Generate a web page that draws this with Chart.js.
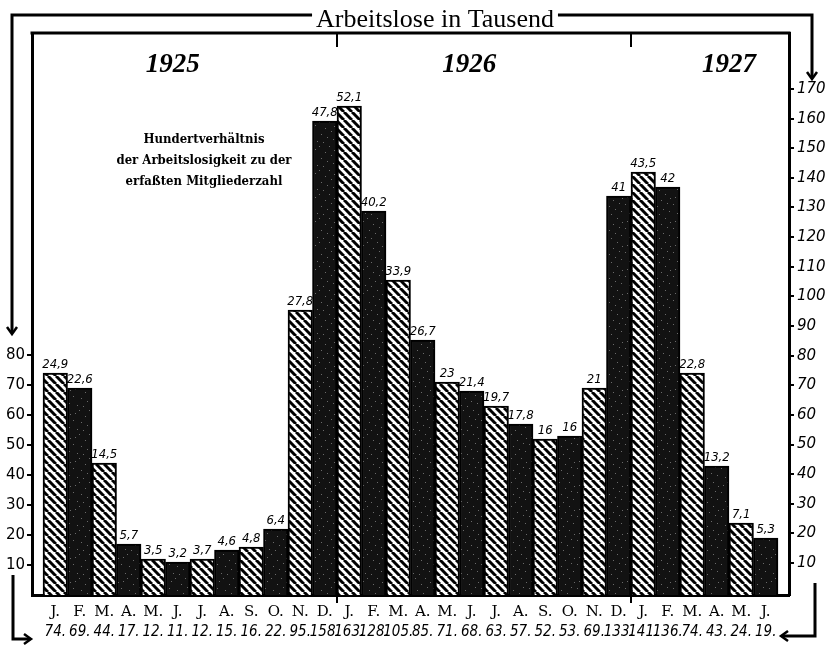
<!DOCTYPE html>
<html><head><meta charset="utf-8">
<script src="https://cdn.jsdelivr.net/npm/chart.js@4"></script>
<style>html,body{margin:0;padding:0;background:#fff;}canvas{display:block;}</style>
</head><body>
<canvas id="c" width="833" height="662"></canvas>
<script>
// ---- data ----
const months = ['J.','F.','M.','A.','M.','J.','J.','A.','S.','O.','N.','D.',
                'J.','F.','M.','A.','M.','J.','J.','A.','S.','O.','N.','D.',
                'J.','F.','M.','A.','M.','J.'];
const unemployed = [74,69,44,17,12,11,12,15,16,22,95,158,
                    163,128,105,85,71,68,63,57,52,53,69,133,
                    141,136,74,43,24,19];
const percent = [24.9,22.6,14.5,5.7,3.5,3.2,3.7,4.6,4.8,6.4,27.8,47.8,
                 52.1,40.2,33.9,26.7,23,21.4,19.7,17.8,16,16,21,41,
                 43.5,42,22.8,13.2,7.1,5.3];
const years = ['1925','1926','1927'];
const leftTicks = [10,20,30,40,50,60,70,80];
const rightTicks = [10,20,30,40,50,60,70,80,90,100,110,120,130,140,150,160,170];
const titleText = 'Arbeitslose in Tausend';
const noteLines = ['Hundertverhältnis','der Arbeitslosigkeit zu der','erfaßten Mitgliederzahl'];

// ---- patterns ----
const canvas = document.getElementById('c');
const mainCtx = canvas.getContext('2d');
function hatchPattern(){
  const s = 8, t = document.createElement('canvas'); t.width = t.height = s;
  const x = t.getContext('2d');
  x.fillStyle = '#fff'; x.fillRect(0,0,s,s);
  x.strokeStyle = '#000'; x.lineWidth = 3;
  for (const k of [-1,0,1]) { x.beginPath(); x.moveTo(k*s,0); x.lineTo(k*s+s,s); x.stroke(); }
  return mainCtx.createPattern(t,'repeat');
}
function darkPattern(){
  const s = 24, t = document.createElement('canvas'); t.width = t.height = s;
  const x = t.getContext('2d');
  x.fillStyle = '#121212'; x.fillRect(0,0,s,s);
  x.fillStyle = '#6a6a6a';
  const specks = [[3,5],[17,2],[9,14],[21,19],[5,21],[13,8],[1,12],[19,11],[11,22],[7,2],[15,17],[22,6]];
  specks.forEach(p => x.fillRect(p[0],p[1],1,1));
  return mainCtx.createPattern(t,'repeat');
}
const HATCH = hatchPattern(), DARK = darkPattern();

// ---- decoration plugin ----
function arrow(ctx, x, y, dir){
  ctx.beginPath();
  if (dir === 'down') { ctx.moveTo(x-5,y-7); ctx.lineTo(x,y); ctx.lineTo(x+5,y-7); }
  if (dir === 'right') { ctx.moveTo(x-7,y-5); ctx.lineTo(x,y); ctx.lineTo(x-7,y+5); }
  if (dir === 'left') { ctx.moveTo(x+7,y-5); ctx.lineTo(x,y); ctx.lineTo(x+7,y+5); }
  ctx.stroke();
}
function seg(ctx, pts){
  ctx.beginPath(); ctx.moveTo(pts[0][0],pts[0][1]);
  for (let i=1;i<pts.length;i++) ctx.lineTo(pts[i][0],pts[i][1]);
  ctx.stroke();
}
const deco = {
  id: 'deco',
  afterDatasetsDraw(chart){
    const ctx = chart.ctx, meta = chart.getDatasetMeta(0);
    ctx.save();
    ctx.fillStyle = '#000';
    ctx.font = 'italic 13px "DejaVu Sans Condensed", "DejaVu Sans", sans-serif';
    ctx.textAlign = 'center'; ctx.textBaseline = 'bottom';
    meta.data.forEach((bar, i) => {
      ctx.fillText(String(percent[i]).replace('.', ','), bar.x, bar.y - 2);
    });
    ctx.restore();
  },
  afterDraw(chart){
    const ctx = chart.ctx, a = chart.chartArea, xs = chart.scales.x;
    ctx.save();
    ctx.strokeStyle = '#000'; ctx.fillStyle = '#000';
    ctx.lineJoin = 'miter'; ctx.lineCap = 'butt';
    // inner frame top
    ctx.lineWidth = 3;
    seg(ctx, [[a.left-1.5, a.top], [a.right+1.5, a.top]]);
    // year dividers
    ctx.lineWidth = 2;
    [11.5, 23.5].forEach(v => {
      const px = xs.getPixelForValue(v);
      seg(ctx, [[px, a.top], [px, a.top + 14]]);
      seg(ctx, [[px, a.bottom], [px, a.bottom + 8]]);
    });
    // title with bracket
    ctx.font = '26px "Liberation Serif", "DejaVu Serif", serif';
    ctx.textAlign = 'center'; ctx.textBaseline = 'alphabetic';
    const tx = 435, w = ctx.measureText(titleText).width;
    ctx.fillText(titleText, tx, 27);
    ctx.lineWidth = 3;
    seg(ctx, [[12,333],[12,15],[tx - w/2 - 4, 15]]);
    seg(ctx, [[tx + w/2 + 4, 15],[812,15],[812,78]]);
    ctx.lineWidth = 2.5;
    arrow(ctx, 12, 334, 'down');
    arrow(ctx, 812, 79, 'down');
    ctx.lineWidth = 3;
    seg(ctx, [[13,575],[13,639],[30,639]]);
    seg(ctx, [[815,583],[815,636],[782,636]]);
    ctx.lineWidth = 2.5;
    arrow(ctx, 31, 639, 'right');
    arrow(ctx, 781, 636, 'left');
    // years
    ctx.font = 'bold italic 27px "Liberation Serif", "DejaVu Serif", serif';
    ctx.textBaseline = 'middle';
    [4.8, 16.9, 27.5].forEach((v, i) => ctx.fillText(years[i], xs.getPixelForValue(v), 65));
    // note
    ctx.font = 'bold 13px "DejaVu Serif Condensed", "DejaVu Serif", serif';
    noteLines.forEach((t, i) => ctx.fillText(t, 204, 140 + i * 21));
    ctx.restore();
  }
};

const fontSans = '"DejaVu Sans", "Liberation Sans", sans-serif';
new Chart(canvas, {
  type: 'bar',
  data: {
    datasets: [{
      data: unemployed.map((v, i) => ({x: i, y: v})),
      backgroundColor: unemployed.map((_, i) => i % 2 === 0 ? HATCH : DARK),
      borderColor: '#000',
      borderWidth: 2,
      barPercentage: 1,
      categoryPercentage: 1
    }]
  },
  options: {
    responsive: false,
    animation: false,
    layout: {padding: {top: 33, bottom: 11, left: 0, right: 0}},
    plugins: {legend: {display: false}, tooltip: {enabled: false}, title: {display: false}},
    scales: {
      x: {
        type: 'linear', position: 'bottom', min: -0.95, max: 29.95, offset: false,
        afterBuildTicks: s => { s.ticks = months.map((_, i) => ({value: i})); },
        afterFit: s => { s.height = 26; },
        grid: {display: true, drawOnChartArea: false, drawTicks: false, offset: false},
        border: {display: true, color: '#000', width: 3},
        ticks: {autoSkip: false, maxRotation: 0, minRotation: 0, padding: 8, color: '#000',
          font: {family: '"DejaVu Serif", serif', size: 15},
          callback: v => months[v]}
      },
      x2: {
        type: 'linear', position: 'bottom', min: -0.95, max: 29.95, offset: false,
        afterBuildTicks: s => { s.ticks = unemployed.map((_, i) => ({value: i})); },
        afterFit: s => { s.height = 30; },
        grid: {display: false, drawTicks: false, offset: false},
        border: {display: false},
        ticks: {autoSkip: false, maxRotation: 0, minRotation: 0, padding: 2, color: '#000',
          font: {family: '"DejaVu Sans Condensed", "DejaVu Sans", sans-serif', size: 15, style: 'italic'},
          callback: v => unemployed[v] + '.'}
      },
      y: {
        position: 'left', min: 0, max: 187.33,
        afterBuildTicks: s => { s.ticks = leftTicks.map(v => ({value: v})); },
        afterFit: s => { s.width = 32; },
        grid: {drawOnChartArea: false, drawTicks: true, tickLength: 5, color: '#000', lineWidth: 2},
        border: {display: true, color: '#000', width: 3},
        ticks: {padding: 2, color: '#000', font: {family: fontSans, size: 15}}
      },
      y2: {
        position: 'right', min: -0.8, max: 188.9,
        afterBuildTicks: s => { s.ticks = rightTicks.map(v => ({value: v})); },
        afterFit: s => { s.width = 44; },
        grid: {drawOnChartArea: false, drawTicks: true, tickLength: 5, color: '#000', lineWidth: 2},
        border: {display: true, color: '#000', width: 3},
        ticks: {padding: 3, color: '#000', font: {family: fontSans, size: 15, style: 'italic'}}
      }
    }
  },
  plugins: [deco]
});
</script>
</body></html>
